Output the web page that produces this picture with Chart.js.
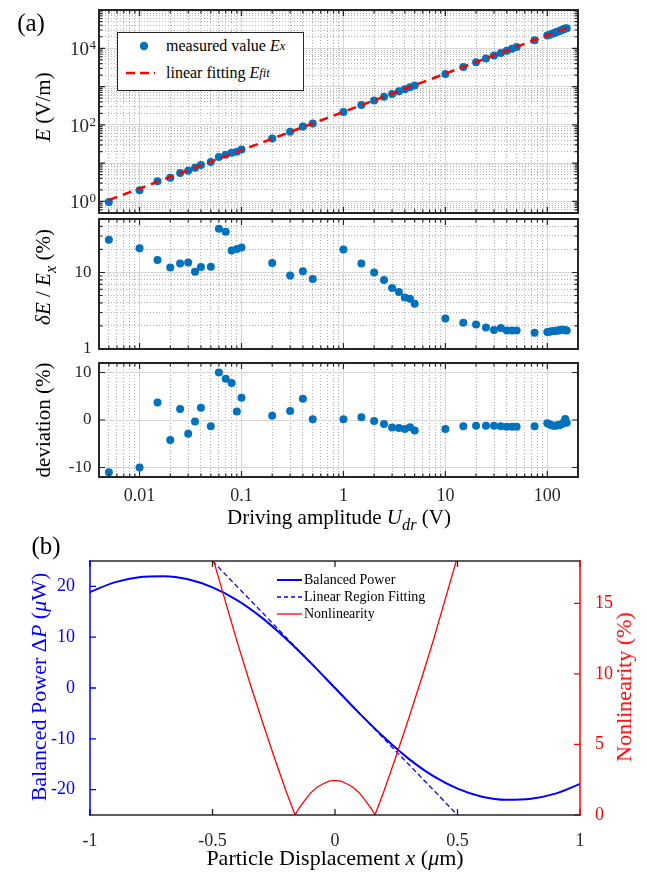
<!DOCTYPE html>
<html>
<head>
<meta charset="utf-8">
<script src="https://cdn.jsdelivr.net/npm/chart.js@4.4.0/dist/chart.umd.min.js"></script>
<style>
body{margin:0;background:#fff;}
#wrap{position:relative;width:647px;height:874px;overflow:hidden;background:#fff;font-family:"Liberation Serif","Times New Roman",serif;color:#262626;}
#wrap canvas{position:absolute;left:0;}
.lbl{position:absolute;white-space:nowrap;transform:translate(-50%,-50%);line-height:1;}
.rot{transform:translate(-50%,-50%) rotate(-90deg);}
sub{font-size:78%;vertical-align:-0.4em;line-height:0;}
.row{position:absolute;height:18px;display:flex;align-items:center;white-space:nowrap;}
</style>
</head>
<body>
<div id="wrap">
  <canvas id="c1" width="647" height="222" style="top:0px"></canvas>
  <canvas id="c2" width="647" height="140" style="top:214px"></canvas>
  <canvas id="c3" width="647" height="164" style="top:356px"></canvas>
  <canvas id="c4" width="647" height="334" style="top:540px"></canvas>

  <div class="lbl" style="left:31px;top:22px;font-size:25px;color:#000">(a)</div>
  <div class="lbl rot" style="left:43px;top:107px;font-size:21px;color:#000"><i>E</i> (V/m)</div>
  <div class="lbl rot" style="left:43px;top:277px;font-size:21px;color:#000"><i>δE</i> / <i>E</i><sub><i>x</i></sub> (%)</div>
  <div class="lbl rot" style="left:43px;top:420px;font-size:21px;color:#000">deviation (%)</div>
  <div class="lbl" style="left:339px;top:517px;font-size:21px;color:#000">Driving amplitude <i>U</i><sub><i>dr</i></sub> (V)</div>

  <div style="position:absolute;left:117px;top:32px;width:185px;height:57px;border:1px solid #262626;background:#fff;font-size:16px;color:#000">
    <div class="row" style="left:0;top:4px">
      <svg width="48" height="18"><circle cx="26" cy="9" r="4.2" fill="#0072BD"/></svg>measured value&nbsp;<i>E</i><sub><i>x</i></sub>
    </div>
    <div class="row" style="left:0;top:31px">
      <svg width="48" height="18"><line x1="8" y1="9" x2="37" y2="9" stroke="#FF0000" stroke-width="2.5" stroke-dasharray="9 5"/></svg>linear fitting&nbsp;<i>E</i><sub><i>fit</i></sub>
    </div>
  </div>

  <div class="lbl" style="left:46px;top:545px;font-size:25px;color:#000">(b)</div>
  <div class="lbl rot" style="left:39px;top:687px;font-size:22px;color:#0000FF">Balanced Power Δ<i>P</i> (<i>μ</i>W)</div>
  <div class="lbl rot" style="left:624px;top:687px;font-size:22px;color:#FF0000">Nonlinearity (%)</div>
  <div class="lbl" style="left:335px;top:858px;font-size:22px;color:#000">Particle Displacement <i>x</i> (<i>μ</i>m)</div>

  <div style="position:absolute;left:277px;top:571px;font-size:14px;color:#000">
    <div class="row" style="left:0;top:0px"><svg width="27" height="18"><line x1="0" y1="9" x2="25" y2="9" stroke="#0000FF" stroke-width="2"/></svg>Balanced Power</div>
    <div class="row" style="left:0;top:17px"><svg width="27" height="18"><line x1="0" y1="9" x2="25" y2="9" stroke="#0000FF" stroke-width="1.3" stroke-dasharray="4 3"/></svg>Linear Region Fitting</div>
    <div class="row" style="left:0;top:34px"><svg width="27" height="18"><line x1="0" y1="9" x2="25" y2="9" stroke="#FF0000" stroke-width="1.3"/></svg>Nonlinearity</div>
  </div>
</div>

<script>
// (a) driving amplitude sweep
const udr = [0.005, 0.01, 0.015, 0.02, 0.025, 0.03, 0.035, 0.04, 0.05, 0.06, 0.07, 0.08, 0.09, 0.1,
  0.2, 0.3, 0.4, 0.5, 1, 1.5, 2, 2.5, 3, 3.5, 4, 4.5, 5,
  10, 15, 20, 25, 30, 35, 40, 45, 50, 75,
  100, 105, 110, 115, 120, 125, 130, 135, 140, 145, 150, 155];
const eMeas = [0.97, 1.96, 3.39, 4.18, 5.58, 6.35, 7.61, 8.95, 10.76, 14.39, 16.59, 18.78, 19.97, 22.82,
  43.99, 66.64, 91.12, 109.2, 218.3, 328.9, 435.1, 540.4, 643.5, 750.0, 855.4, 966.3, 1066,
  2139, 3227, 4308, 5385, 6462, 7531, 8598, 9673, 10747, 16137,
  21647, 22684, 23716, 24769, 25846, 26950, 28028, 29136, 30276, 31452, 32765, 33587];
const dEpct = [26.7, 20.8, 14.6, 11.6, 13.1, 13.5, 10.2, 11.8, 11.9, 37.2, 34.0, 19.4, 20.2, 21.2,
  13.3, 9.1, 10.4, 8.2, 20.0, 13.1, 10.0, 8.0, 6.25, 5.55, 4.72, 4.54, 3.9,
  2.51, 2.2, 2.09, 1.91, 1.77, 1.88, 1.75, 1.74, 1.75, 1.63,
  1.67, 1.68, 1.70, 1.72, 1.72, 1.74, 1.75, 1.77, 1.78, 1.78, 1.76, 1.74];
const devPct = [-11.0, -10.0, 3.7, -4.2, 2.3, -2.9, -0.3, 2.6, -1.3, 10.0, 8.7, 7.8, 1.8, 4.7,
  0.9, 1.9, 4.5, 0.15, 0.15, 0.6, -0.2, -0.85, -1.6, -1.7, -1.9, -1.5, -2.2,
  -1.9, -1.3, -1.2, -1.2, -1.2, -1.3, -1.4, -1.4, -1.4, -1.3,
  -0.7, -0.9, -1.1, -1.2, -1.2, -1.1, -1.1, -1.0, -0.8, -0.5, 0.2, -0.6];
const fitU = [0.005, 160];
const fitE = [1.09, 34900];
const xDecadeLabels = [0.01, 0.1, 1, 10, 100];
const eExpLabels = [0, 2, 4];

// (b) balanced power vs displacement
const dispX = [-1, -0.9, -0.8, -0.7, -0.6, -0.5, -0.4, -0.3, -0.2, -0.1, 0,
  0.1, 0.2, 0.3, 0.4, 0.5, 0.6, 0.7, 0.8, 0.9, 1];
const balPower = [18.9, 20.8, 21.8, 22.0, 21.4, 19.8, 17.3, 13.9, 9.7, 5.0, 0,
  -5.0, -9.7, -13.9, -17.3, -19.8, -21.4, -22.0, -21.8, -20.8, -18.9];
const linFitX = [-0.5, 0.5];
const linFitP = [25, -25];
const nlX = [-0.5, -0.45, -0.4, -0.35, -0.3, -0.25, -0.2, -0.163, -0.15, -0.125, -0.1, -0.075, -0.05, -0.025, 0,
  0.025, 0.05, 0.075, 0.1, 0.125, 0.15, 0.163, 0.2, 0.25, 0.3, 0.35, 0.4, 0.45, 0.5];
const nlPct = [18.3, 15.3, 12.3, 9.5, 6.8, 4.2, 1.7, 0, 0.4, 1.0, 1.55, 1.95, 2.2, 2.4, 2.45,
  2.4, 2.2, 1.95, 1.55, 1.0, 0.4, 0, 1.7, 4.2, 6.8, 9.5, 12.3, 15.3, 18.3];
const xTicksB = [-1, -0.5, 0, 0.5, 1];
const pTicksB = [-20, -10, 0, 10, 20];
const nlTicksB = [0, 5, 10, 15];
const devTicks = [-10, 0, 10];

const AX = '#262626';
const FONT = '"Liberation Serif", "Times New Roman", serif';
Chart.defaults.font.family = FONT;
Chart.defaults.color = AX;

function pts(xs, ys) {
  return xs.map((x, i) => ({x: x, y: ys[i]}));
}

function logTicks(min, max) {
  let out = [];
  for (let e = Math.floor(Math.log10(min)); e <= Math.ceil(Math.log10(max)); e++) {
    for (let m = 1; m < 10; m++) {
      let v = m * Math.pow(10, e);
      if (v >= min * 0.999 && v <= max * 1.001) out.push({value: v, major: m === 1});
    }
  }
  return out;
}

function fixedTicks(list) {
  return s => { s.ticks = list.map(v => ({value: v, major: true})); };
}

function decadeLabel(v) {
  let hit = xDecadeLabels.find(d => Math.abs(d - v) < d * 1e-6);
  if (hit === undefined) return '';
  return hit < 1 ? hit.toFixed(Math.round(-Math.log10(hit))) : String(hit);
}

const gridA = {
  drawTicks: false,
  lineWidth: 1,
  color: c => (c.tick && c.tick.major === false) ? '#b4b4b4' : '#d6d6d6'
};
const borderA = {
  display: false,
  dash: c => (c.tick && c.tick.major === false) ? [1, 2] : []
};

// box + inward ticks, MATLAB style
function frame(cfg) {
  return {
    id: 'frame',
    afterDraw(chart) {
      const ctx = chart.ctx, a = chart.chartArea;
      ctx.save();
      for (const id in cfg.axes) {
        const s = chart.scales[id], ax = cfg.axes[id];
        ctx.strokeStyle = ax.color;
        ctx.lineWidth = cfg.tickWidth;
        ctx.beginPath();
        s.ticks.forEach(t => {
          const p = s.getPixelForValue(t.value);
          const len = t.major === false ? cfg.minor : cfg.major;
          ax.sides.forEach(side => {
            if (side === 'top') { ctx.moveTo(p, a.top); ctx.lineTo(p, a.top + len); }
            if (side === 'bottom') { ctx.moveTo(p, a.bottom); ctx.lineTo(p, a.bottom - len); }
            if (side === 'left') { ctx.moveTo(a.left, p); ctx.lineTo(a.left + len, p); }
            if (side === 'right') { ctx.moveTo(a.right, p); ctx.lineTo(a.right - len, p); }
          });
        });
        ctx.stroke();
      }
      const h = cfg.width / 2;
      const edges = [
        ['top', a.left - h, a.top, a.right + h, a.top],
        ['bottom', a.left - h, a.bottom, a.right + h, a.bottom],
        ['left', a.left, a.top - h, a.left, a.bottom + h],
        ['right', a.right, a.top - h, a.right, a.bottom + h]
      ];
      ctx.lineWidth = cfg.width;
      edges.forEach(e => {
        ctx.strokeStyle = cfg.edges[e[0]];
        ctx.beginPath();
        ctx.moveTo(e[1], e[2]);
        ctx.lineTo(e[3], e[4]);
        ctx.stroke();
      });
      if (cfg.expLabels) {
        const s = chart.scales.y;
        ctx.fillStyle = AX;
        cfg.expLabels.forEach(ex => {
          const p = s.getPixelForValue(Math.pow(10, ex));
          ctx.font = '19px ' + FONT;
          ctx.textAlign = 'right';
          ctx.textBaseline = 'alphabetic';
          ctx.fillText('10', a.left - 10, p + 7);
          ctx.font = '13px ' + FONT;
          ctx.textAlign = 'left';
          ctx.fillText(String(ex), a.left - 9.5, p + 1);
        });
      }
      ctx.restore();
    }
  };
}

const frameA = (exp) => frame({
  width: 2, tickWidth: 1.2, major: 6, minor: 3.5,
  edges: {top: AX, bottom: AX, left: AX, right: AX},
  axes: {x: {sides: ['top', 'bottom'], color: AX}, y: {sides: ['left', 'right'], color: AX}},
  expLabels: exp
});

function xLog(showLabels, height) {
  return {
    type: 'logarithmic', min: 0.004, max: 200,
    afterBuildTicks: s => { s.ticks = logTicks(0.004, 200); },
    afterFit: s => { s.height = height; s.paddingLeft = 0; s.paddingRight = 0; },
    ticks: {display: showLabels, autoSkip: false, maxRotation: 0, minRotation: 0, padding: 8,
      font: {size: 18}, color: AX, callback: (v) => decadeLabel(v)},
    grid: gridA, border: borderA
  };
}

const baseOpts = {
  responsive: false, animation: false, events: [],
  plugins: {legend: {display: false}, tooltip: {enabled: false}}
};

// panel 1: E vs U
new Chart(document.getElementById('c1'), {
  type: 'scatter',
  data: {
    datasets: [
      {data: pts(fitU, fitE), showLine: true, borderColor: '#FF0000', borderWidth: 2.5,
        borderDash: [9, 6], pointRadius: 0, fill: false},
      {data: pts(udr, eMeas), backgroundColor: '#0072BD', borderWidth: 0, pointRadius: 4}
    ]
  },
  options: Object.assign({}, baseOpts, {
    layout: {padding: {left: 10, right: 69, top: 10, bottom: 9}},
    scales: {
      x: xLog(false, 0),
      y: {
        type: 'logarithmic', min: 0.5, max: 1e5,
        afterBuildTicks: s => { s.ticks = logTicks(0.5, 1e5); },
        afterFit: s => { s.width = 89; s.paddingTop = 0; s.paddingBottom = 0; },
        ticks: {display: false},
        grid: gridA, border: borderA
      }
    }
  }),
  plugins: [frameA(eExpLabels)]
});

// panel 2: relative uncertainty
new Chart(document.getElementById('c2'), {
  type: 'scatter',
  data: {datasets: [{data: pts(udr, dEpct), backgroundColor: '#0072BD', borderWidth: 0, pointRadius: 4}]},
  options: Object.assign({}, baseOpts, {
    layout: {padding: {left: 10, right: 69, top: 5, bottom: 5}},
    scales: {
      x: xLog(false, 0),
      y: {
        type: 'logarithmic', min: 1, max: 50,
        afterBuildTicks: s => { s.ticks = logTicks(1, 50); },
        afterFit: s => { s.width = 89; s.paddingTop = 0; s.paddingBottom = 0; },
        ticks: {autoSkip: false, padding: 7.5, font: {size: 17}, color: AX,
          callback: (v, i, t) => t[i].major ? String(Math.round(v)) : ''},
        grid: gridA, border: borderA
      }
    }
  }),
  plugins: [frameA(null)]
});

// panel 3: deviation from fit
new Chart(document.getElementById('c3'), {
  type: 'scatter',
  data: {datasets: [{data: pts(udr, devPct), backgroundColor: '#0072BD', borderWidth: 0, pointRadius: 4}]},
  options: Object.assign({}, baseOpts, {
    layout: {padding: {left: 10, right: 69, top: 7, bottom: 0}},
    scales: {
      x: xLog(true, 43),
      y: {
        type: 'linear', min: -12, max: 12,
        afterBuildTicks: fixedTicks(devTicks),
        afterFit: s => { s.width = 89; s.paddingTop = 0; s.paddingBottom = 0; },
        ticks: {autoSkip: false, padding: 7.5, font: {size: 17}, color: AX, callback: v => String(v)},
        grid: gridA, border: borderA
      }
    }
  }),
  plugins: [frameA(null)]
});

// panel (b)
new Chart(document.getElementById('c4'), {
  type: 'scatter',
  data: {
    datasets: [
      {data: pts(nlX, nlPct), yAxisID: 'y2', showLine: true, borderColor: '#FF0000', borderWidth: 1.3,
        pointRadius: 0, tension: 0, clip: 0},
      {data: pts(linFitX, linFitP), yAxisID: 'y', showLine: true, borderColor: '#0000FF', borderWidth: 1.3,
        borderDash: [5, 3], pointRadius: 0, clip: 0},
      {data: pts(dispX, balPower), yAxisID: 'y', showLine: true, borderColor: '#0000FF', borderWidth: 2,
        pointRadius: 0, cubicInterpolationMode: 'monotone', clip: 0}
    ]
  },
  options: Object.assign({}, baseOpts, {
    layout: {padding: {left: 0, right: 0, top: 21, bottom: 0}},
    scales: {
      x: {
        type: 'linear', min: -1, max: 1,
        afterBuildTicks: fixedTicks(xTicksB),
        afterFit: s => { s.height = 59; s.paddingLeft = 0; s.paddingRight = 0; },
        ticks: {autoSkip: false, maxRotation: 0, padding: 7, font: {size: 18}, color: AX, callback: v => String(v)},
        grid: {display: false}, border: {display: false}
      },
      y: {
        type: 'linear', position: 'left', min: -25, max: 25,
        afterBuildTicks: fixedTicks(pTicksB),
        afterFit: s => { s.width = 90; s.paddingTop = 0; s.paddingBottom = 0; },
        ticks: {autoSkip: false, padding: 7, font: {size: 18}, color: '#0000FF', callback: v => String(v)},
        grid: {display: false}, border: {display: false}
      },
      y2: {
        type: 'linear', position: 'right', min: 0, max: 18,
        afterBuildTicks: fixedTicks(nlTicksB),
        afterFit: s => { s.width = 67; s.paddingTop = 0; s.paddingBottom = 0; },
        ticks: {autoSkip: false, padding: 7, font: {size: 18}, color: '#FF0000', callback: v => String(v)},
        grid: {display: false}, border: {display: false}
      }
    }
  }),
  plugins: [frame({
    width: 1.5, tickWidth: 1.3, major: 6, minor: 3,
    edges: {top: AX, bottom: AX, left: '#0000FF', right: '#FF0000'},
    axes: {
      x: {sides: ['top', 'bottom'], color: AX},
      y: {sides: ['left'], color: '#0000FF'},
      y2: {sides: ['right'], color: '#FF0000'}
    },
    expLabels: null
  })]
});
</script>
</body>
</html>
